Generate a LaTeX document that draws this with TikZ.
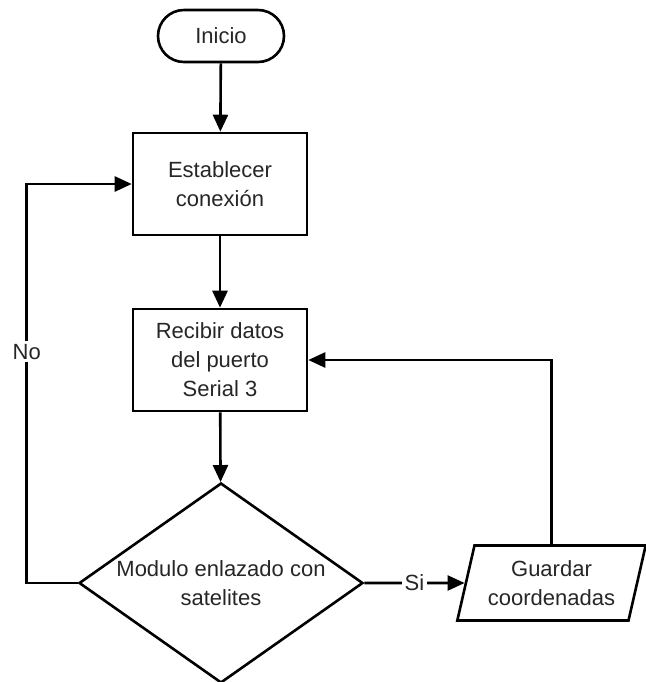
\documentclass[tikz,border=0pt]{standalone}
\usepackage{fontspec}
\setmainfont{Liberation Sans}
\usetikzlibrary{shapes.geometric,arrows.meta}

\begin{document}
\begin{tikzpicture}[>={Triangle[length=8.5pt,width=7.5pt]}, line width=1.3pt, every node/.style={font=\fontsize{11}{14.5}\selectfont, text=black!85},
  proc/.style={draw=black, rectangle, align=center, minimum width=87pt, minimum height=51pt},
  term/.style={draw=black, rectangle, rounded corners=13pt, minimum width=63pt, minimum height=26pt},
  decision/.style={draw=black, diamond, aspect=1.42, inner sep=0pt, align=center, minimum width=142pt, minimum height=100pt},
  io/.style={draw=black, trapezium, trapezium left angle=75, trapezium right angle=105, trapezium stretches=true, align=center, minimum width=94.5pt, minimum height=37.5pt},
  tag/.style={fill=white, inner sep=1.5pt}]
\useasboundingbox (0,0) rectangle (323pt,-341pt);
\node[term] (inicio) at (110.5pt,-18pt) {Inicio};
\node[proc] (conexion) at (110pt,-92pt) {Establecer\\conexión};
\node[proc] (recibir) at (110pt,-180pt) {Recibir datos\\del puerto\\Serial 3};
\node[decision] (enlazado) at (110.5pt,-291.5pt) {Modulo enlazado con\\satelites};
\node[io] (guardar) at (275.75pt,-291.5pt) {Guardar\\coordenadas};
\draw[->] (inicio) -- (conexion);
\draw[->] (conexion) -- (recibir);
\draw[->] (recibir) -- (enlazado);
\draw[->] (enlazado.east) -- node[tag] {Si} (guardar);
\draw[->] (enlazado.west) -- ++(-25.5pt,0) |- node[tag, pos=0.29] {No} (conexion.west);
\draw[->] (guardar.north) |- (recibir.east);
\end{tikzpicture}
\end{document}
